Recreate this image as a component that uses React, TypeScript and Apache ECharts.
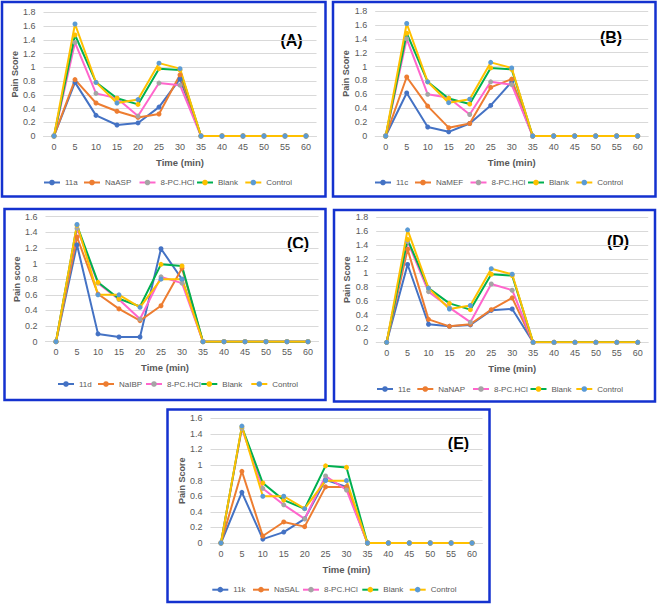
import React, { useEffect, useRef } from "react";
import * as echarts from "echarts";

// ---------- data ----------
const timeLabels = ["0", "5", "10", "15", "20", "25", "30", "35", "40", "45", "50", "55", "60"];

const panelTags = ["(A)", "(B)", "(C)", "(D)", "(E)"];
const compoundNames = ["11a", "11c", "11d", "11e", "11k"];
const sodiumNames = ["NaASP", "NaMEF", "NaIBP", "NaNAP", "NaSAL"];
const commonNames = ["8-PC.HCl", "Blank", "Control"];
const yMaxValues = [1.8, 1.8, 1.6, 1.8, 1.6];
const yTitles = ["Pain Score", "Pain Score", "Pain score", "Pain Score", "Pain Score"];
const xTitle = "Time (min)";

// Panel A
const a11a = [0, 0.78, 0.3, 0.16, 0.19, 0.42, 0.83, 0, 0, 0, 0, 0, 0];
const aNaASP = [0, 0.82, 0.48, 0.36, 0.27, 0.32, 0.89, 0, 0, 0, 0, 0, 0];
const a8PC = [0, 1.36, 0.62, 0.55, 0.29, 0.77, 0.74, 0, 0, 0, 0, 0, 0];
const aBlank = [0, 1.47, 0.78, 0.55, 0.46, 0.98, 0.96, 0, 0, 0, 0, 0, 0];
const aControl = [0, 1.63, 0.78, 0.48, 0.53, 1.06, 0.98, 0, 0, 0, 0, 0, 0];

// Panel B
const b11c = [0, 0.62, 0.13, 0.06, 0.18, 0.44, 0.78, 0, 0, 0, 0, 0, 0];
const bNaMEF = [0, 0.85, 0.43, 0.12, 0.18, 0.7, 0.82, 0, 0, 0, 0, 0, 0];
const b8PC = [0, 1.4, 0.6, 0.55, 0.31, 0.78, 0.74, 0, 0, 0, 0, 0, 0];
const bBlank = [0, 1.48, 0.78, 0.54, 0.46, 0.98, 0.96, 0, 0, 0, 0, 0, 0];
const bControl = [0, 1.62, 0.78, 0.48, 0.53, 1.06, 0.98, 0, 0, 0, 0, 0, 0];

// Panel C
const c11d = [0, 1.24, 0.1, 0.06, 0.06, 1.19, 0.8, 0, 0, 0, 0, 0, 0];
const cNaIBP = [0, 1.34, 0.61, 0.42, 0.27, 0.46, 0.94, 0, 0, 0, 0, 0, 0];
const c8PC = [0, 1.45, 0.75, 0.54, 0.29, 0.83, 0.75, 0, 0, 0, 0, 0, 0];
const cBlank = [0, 1.49, 0.76, 0.55, 0.45, 0.99, 0.97, 0, 0, 0, 0, 0, 0];
const cControl = [0, 1.5, 0.6, 0.6, 0.44, 0.8, 0.8, 0, 0, 0, 0, 0, 0];

// Panel D
const d11e = [0, 1.12, 0.26, 0.23, 0.25, 0.46, 0.48, 0, 0, 0, 0, 0, 0];
const dNaNAP = [0, 1.34, 0.33, 0.23, 0.26, 0.47, 0.64, 0, 0, 0, 0, 0, 0];
const d8PC = [0, 1.45, 0.73, 0.5, 0.29, 0.84, 0.75, 0, 0, 0, 0, 0, 0];
const dBlank = [0, 1.48, 0.78, 0.56, 0.47, 0.98, 0.96, 0, 0, 0, 0, 0, 0];
const dControl = [0, 1.62, 0.78, 0.48, 0.53, 1.06, 0.98, 0, 0, 0, 0, 0, 0];

// Panel E
const e11k = [0, 0.65, 0.05, 0.14, 0.31, 0.81, 0.72, 0, 0, 0, 0, 0, 0];
const eNaSAL = [0, 0.92, 0.09, 0.27, 0.21, 0.72, 0.72, 0, 0, 0, 0, 0, 0];
const e8PC = [0, 1.47, 0.7, 0.49, 0.31, 0.86, 0.68, 0, 0, 0, 0, 0, 0];
const eBlank = [0, 1.49, 0.77, 0.55, 0.44, 0.99, 0.97, 0, 0, 0, 0, 0, 0];
const eControl = [0, 1.5, 0.6, 0.6, 0.44, 0.8, 0.8, 0, 0, 0, 0, 0, 0];

const panelSeries = [
  [a11a, aNaASP, a8PC, aBlank, aControl],
  [b11c, bNaMEF, b8PC, bBlank, bControl],
  [c11d, cNaIBP, c8PC, cBlank, cControl],
  [d11e, dNaNAP, d8PC, dBlank, dControl],
  [e11k, eNaSAL, e8PC, eBlank, eControl],
];

// ---------- styles / layout ----------
const lineColors = ["#4472C4", "#ED7D31", "#FF66CC", "#00B050", "#FFC000"];
const markerColors = ["#4472C4", "#ED7D31", "#A5A5A5", "#FFC000", "#5B9BD5"];
const borderBlue = "#1432CF";
const axisGrey = "#D9D9D9";
const textGrey = "#595959";
const FONT = "'Liberation Sans', Arial, sans-serif";
const LEGEND_ICON_W = 16;

const layouts = [
  {
    box: [2, 2, 323.5, 194.5], grid: [43.5, 12.3, 273, 123.7], tag: [291.5, 40], xPad: 0,
    legendY: 183.5, legendX: [51, 91, 146.5, 204, 252.3],
  },
  {
    box: [333, 2, 322.5, 194.5], grid: [375.2, 11, 273, 125], tag: [611, 37], xPad: 0,
    legendY: 183.5, legendX: [382, 422, 477.5, 535, 583.3],
  },
  {
    box: [4.5, 209, 321, 191], grid: [45.5, 216.7, 273, 125], tag: [298, 243], xPad: 34,
    legendY: 385, legendX: [65, 105, 153, 208.3, 258.3],
  },
  {
    box: [334, 210, 321, 191.5], grid: [376.2, 217.3, 272, 125], tag: [618, 241.7], xPad: 0,
    legendY: 390, legendX: [384, 424.3, 480, 537.5, 583.3],
  },
  {
    box: [167.5, 409.5, 322, 192.5], grid: [210.5, 418.3, 272, 124.7], tag: [458.5, 443], xPad: 0,
    legendY: 590.7, legendX: [219.3, 260, 310, 369.3, 416.7],
  },
];

function buildOption() {
  const grids: any[] = [];
  const xAxes: any[] = [];
  const yAxes: any[] = [];
  const series: any[] = [];
  const legends: any[] = [];
  const graphics: any[] = [];

  layouts.forEach((lay, i) => {
    const [gl, gt, gw, gh] = lay.grid;
    grids.push({ left: gl, top: gt, width: gw, height: gh, containLabel: false });
    xAxes.push({
      type: "category",
      gridIndex: i,
      data: timeLabels,
      boundaryGap: true,
      axisLine: { lineStyle: { color: axisGrey, width: 1 } },
      axisTick: { show: false },
      axisLabel: { color: textGrey, fontSize: 9, margin: 6, fontFamily: FONT, interval: 0 },
      splitLine: { show: false },
      name: xTitle,
      nameLocation: "middle",
      nameGap: 21,
      nameTextStyle: {
        fontWeight: "bold",
        fontSize: 9.5,
        color: textGrey,
        fontFamily: FONT,
        padding: [0, lay.xPad, 0, 0],
      },
    });
    yAxes.push({
      type: "value",
      gridIndex: i,
      min: 0,
      max: yMaxValues[i],
      interval: 0.2,
      axisLine: { show: false },
      axisTick: { show: false },
      axisLabel: { color: textGrey, fontSize: 9, margin: 8, fontFamily: FONT },
      splitLine: { lineStyle: { color: axisGrey, width: 1 } },
      name: yTitles[i],
      nameLocation: "middle",
      nameGap: 20,
      nameTextStyle: { fontWeight: "bold", fontSize: 9, color: textGrey, fontFamily: FONT },
    });

    const names = [compoundNames[i], sodiumNames[i], ...commonNames];
    panelSeries[i].forEach((vals, k) => {
      series.push({
        type: "line",
        name: names[k],
        xAxisIndex: i,
        yAxisIndex: i,
        data: vals,
        symbol: "circle",
        symbolSize: 5,
        showSymbol: true,
        showAllSymbol: true,
        lineStyle: { color: lineColors[k], width: 2 },
        itemStyle: { color: markerColors[k] },
        emphasis: { disabled: true },
      });
      // one legend entry per series, placed where the reference shows it
      legends.push({
        left: lay.legendX[k] - LEGEND_ICON_W / 2,
        top: lay.legendY - 5,
        itemWidth: LEGEND_ICON_W,
        itemHeight: 7,
        padding: 0,
        selectedMode: false,
        textStyle: { fontSize: 8, color: textGrey, fontFamily: FONT },
        data: [names[k]],
      });
    });

    const [bx, by, bw, bh] = lay.box;
    graphics.push({
      type: "rect",
      shape: { x: bx, y: by, width: bw, height: bh },
      style: { fill: "none", stroke: borderBlue, lineWidth: 2.5 },
      silent: true,
    });
    graphics.push({
      type: "text",
      x: lay.tag[0],
      y: lay.tag[1],
      style: {
        text: panelTags[i],
        fill: "#000000",
        font: `bold 16px ${FONT}`,
        textAlign: "center",
        textVerticalAlign: "middle",
      },
      silent: true,
    });
  });

  return {
    animation: false,
    backgroundColor: "#ffffff",
    textStyle: { fontFamily: FONT },
    grid: grids,
    xAxis: xAxes,
    yAxis: yAxes,
    legend: legends,
    series,
    graphic: graphics,
  };
}

export default function App() {
  const ref = useRef<HTMLDivElement>(null);
  useEffect(() => {
    if (!ref.current) return;
    const chart = echarts.init(ref.current, undefined, { renderer: "svg" });
    chart.setOption(buildOption());
    return () => chart.dispose();
  }, []);
  return (
    <div
      ref={ref}
      style={{ position: "absolute", left: 0, top: 0, width: 661, height: 606, background: "#fff" }}
    />
  );
}
